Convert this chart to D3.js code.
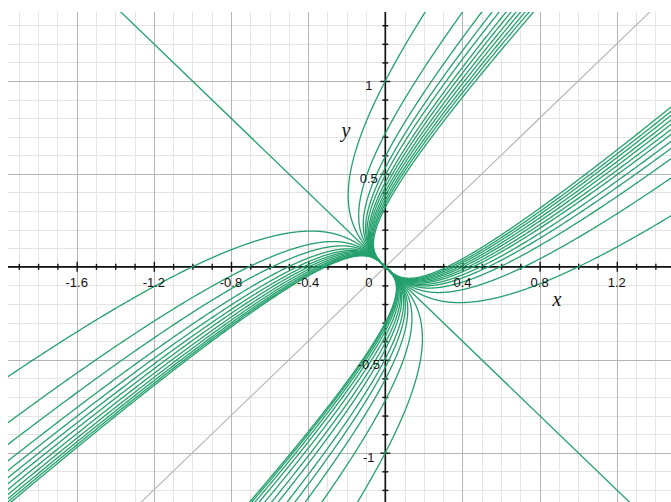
<!DOCTYPE html>
<html>
<head>
<meta charset="utf-8">
<script src="https://cdn.jsdelivr.net/npm/d3@7"></script>
<style>
  html, body { margin: 0; padding: 0; background: #fff; }
  svg { display: block; }
</style>
</head>
<body>
<svg id="chart" width="671" height="502"></svg>
<script>
// Phase portrait of x' = 2x + y, y' = x + 2y.
// Every orbit lies on x + y = ±k·|x − y|³ on one side of the line y = x.
// Each family below lists, for its curves, the distance from the origin
// at which the curve crosses a coordinate axis (k = 1 / a²).
const upperYIntercepts = [1.0, 0.718, 0.594, 0.533, 0.493, 0.455, 0.429, 0.403, 0.381, 0.359, 0.340, 0.320]; // cross (0, a)
const rightXIntercepts = [1.0, 0.718, 0.594, 0.533, 0.493, 0.455, 0.429, 0.403, 0.381, 0.359, 0.340, 0.320]; // cross (a, 0)
const lowerYIntercepts = [1.0, 0.718, 0.605, 0.540, 0.494, 0.443, 0.408, 0.373, 0.345, 0.325, 0.310, 0.300]; // cross (0, -a)
const leftXIntercepts  = [1.0, 0.707, 0.587, 0.503, 0.457, 0.424, 0.397, 0.372, 0.351, 0.334, 0.321, 0.310]; // cross (-a, 0)

const xTickLabels = ["-1.6", "-1.2", "-0.8", "-0.4", "0.4", "0.8", "1.2"];
const yTickLabels = ["1", "0.5", "-0.5", "-1"];

const plot = { left: 8, top: 12, right: 671, bottom: 502 };
const x = d3.scaleLinear().domain([-1.956, 1.481]).range([plot.left, plot.right]);
const y = d3.scaleLinear().domain([1.371, -1.265]).range([plot.top, plot.bottom]);

const svg = d3.select("#chart");
svg.append("defs").append("clipPath").attr("id", "plotClip")
  .append("rect")
  .attr("x", plot.left).attr("y", plot.top)
  .attr("width", plot.right - plot.left).attr("height", plot.bottom - plot.top);

const g = svg.append("g").attr("clip-path", "url(#plotClip)");

// grid: light lines every 0.1, darker lines at the labelled values
const step = (a, b, s) => d3.range(Math.round(a / s), Math.round(b / s) + 1).map(i => +(i * s).toFixed(4));
const xMinor = step(-1.9, 1.4, 0.1);
const yMinor = step(-1.2, 1.3, 0.1);
const xMajor = xTickLabels.map(Number);
const yMajor = yTickLabels.map(Number);

const grid = g.append("g").attr("shape-rendering", "crispEdges");
function vLines(vals, color) {
  grid.append("g").selectAll("line").data(vals).join("line")
    .attr("x1", d => Math.round(x(d)) + 0.5).attr("x2", d => Math.round(x(d)) + 0.5)
    .attr("y1", plot.top).attr("y2", plot.bottom)
    .attr("stroke", color).attr("stroke-width", 1);
}
function hLines(vals, color) {
  grid.append("g").selectAll("line").data(vals).join("line")
    .attr("y1", d => Math.round(y(d)) + 0.5).attr("y2", d => Math.round(y(d)) + 0.5)
    .attr("x1", plot.left).attr("x2", plot.right)
    .attr("stroke", color).attr("stroke-width", 1);
}
vLines(xMinor, "#e4e4e4");
hLines(yMinor, "#e4e4e4");
vLines(xMajor, "#b5b5b5");
hLines(yMajor, "#b5b5b5");

// gray diagonal y = x
g.append("line")
  .attr("x1", x(-2)).attr("y1", y(-2)).attr("x2", x(2)).attr("y2", y(2))
  .attr("stroke", "#b4b4b4").attr("stroke-width", 1.1);

// axes through the origin
const axes = g.append("g");
axes.append("line").attr("x1", plot.left).attr("x2", plot.right)
  .attr("y1", y(0)).attr("y2", y(0)).attr("stroke", "#111").attr("stroke-width", 1.7);
axes.append("line").attr("y1", plot.top).attr("y2", plot.bottom)
  .attr("x1", x(0)).attr("x2", x(0)).attr("stroke", "#111").attr("stroke-width", 1.7);

function tickAxis(axisGen, transform) {
  const a = axes.append("g").attr("transform", transform).call(axisGen);
  a.select(".domain").remove();
  a.selectAll(".tick line").attr("stroke", "#111").attr("stroke-width", 1.4);
  a.selectAll("text").remove();
}
const xMinorTicks = xMinor.filter(v => Math.abs(v) > 1e-9 && !xMajor.includes(v));
const yMinorTicks = yMinor.filter(v => Math.abs(v) > 1e-9 && !yMajor.includes(v));
tickAxis(d3.axisBottom(x).tickValues(xMinorTicks).tickSize(6).tickFormat(""), `translate(0,${y(0) - 3})`);
tickAxis(d3.axisBottom(x).tickValues(xMajor).tickSize(10).tickFormat(""), `translate(0,${y(0) - 5})`);
tickAxis(d3.axisRight(y).tickValues(yMinorTicks).tickSize(6).tickFormat(""), `translate(${x(0) - 3},0)`);
tickAxis(d3.axisRight(y).tickValues(yMajor).tickSize(10).tickFormat(""), `translate(${x(0) - 5},0)`);

// trajectories, parametrised by s = |x - y|
const line = d3.line().x(d => x(d[0])).y(d => y(d[1]));
const sVals = d3.range(0, 3.0001, 0.0025);
const families = [
  { a: upperYIntercepts, f: (k, s) => [(k * s * s * s - s) / 2, (k * s * s * s + s) / 2] },
  { a: rightXIntercepts, f: (k, s) => [(k * s * s * s + s) / 2, (k * s * s * s - s) / 2] },
  { a: lowerYIntercepts, f: (k, s) => [(s - k * s * s * s) / 2, -(k * s * s * s + s) / 2] },
  { a: leftXIntercepts,  f: (k, s) => [-(k * s * s * s + s) / 2, (s - k * s * s * s) / 2] }
];
const curves = g.append("g").attr("fill", "none").attr("stroke", "#24a06d").attr("stroke-width", 1.3);
families.forEach(fam => {
  fam.a.forEach(a => {
    const k = 1 / (a * a);
    const pts = [];
    for (const s of sVals) {
      const p = fam.f(k, s);
      pts.push(p);
      if (Math.abs(p[0]) > 2.2 || Math.abs(p[1]) > 1.6) break;
    }
    curves.append("path").attr("d", line(pts));
  });
});
// straight-line orbit y = -x
curves.append("line")
  .attr("x1", x(-2)).attr("y1", y(2)).attr("x2", x(2)).attr("y2", y(-2));

// tick labels
const lab = svg.append("g").attr("font-family", "'Liberation Sans', Arial, sans-serif")
  .attr("font-size", 13).attr("fill", "#111").attr("text-anchor", "middle");
lab.selectAll(".xl").data(xTickLabels).join("text")
  .attr("x", d => x(+d)).attr("y", y(0) + 20.5).text(d => d);
lab.append("text").attr("x", x(0) - 16.5).attr("y", y(0) + 20.5).text("0");
lab.selectAll(".yl").data(yTickLabels).join("text")
  .attr("x", x(0) - 16.5).attr("y", d => y(+d) + 9.5).text(d => d);

// axis names
const titles = svg.append("g").attr("font-family", "'Liberation Serif', 'Times New Roman', serif")
  .attr("font-style", "italic").attr("font-size", 20).attr("fill", "#111").attr("text-anchor", "middle");
titles.append("text").attr("x", 557).attr("y", 306).text("x");
titles.append("text").attr("x", 346).attr("y", 137).text("y");
</script>
</body>
</html>
